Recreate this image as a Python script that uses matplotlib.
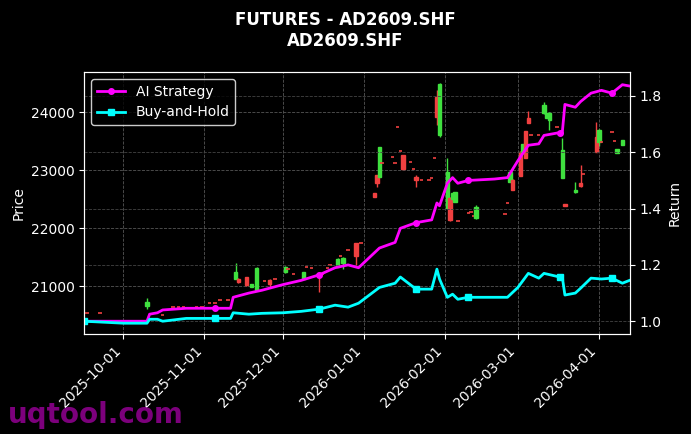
import matplotlib
matplotlib.use("Agg")
import matplotlib.pyplot as plt
import matplotlib.dates as mdates
import pandas as pd

# candles: date, open, high, low, close
c_dates = ["2025-09-17","2025-09-22","2025-10-10","2025-10-16","2025-10-20","2025-10-22","2025-10-24",
 "2025-10-29","2025-10-31","2025-11-03","2025-11-05","2025-11-07","2025-11-10","2025-11-13","2025-11-14",
 "2025-11-17","2025-11-19","2025-11-21","2025-11-24","2025-11-26","2025-11-28","2025-12-02","2025-12-03",
 "2025-12-05","2025-12-09","2025-12-10","2025-12-12","2025-12-15","2025-12-16","2025-12-18","2025-12-19",
 "2025-12-22","2025-12-23","2025-12-24","2025-12-26","2025-12-29","2025-12-31","2026-01-05","2026-01-06",
 "2026-01-07","2026-01-08","2026-01-12","2026-01-13","2026-01-14","2026-01-15","2026-01-16","2026-01-19",
 "2026-01-20","2026-01-21","2026-01-23","2026-01-26","2026-01-27","2026-01-28","2026-01-29","2026-01-30",
 "2026-02-02","2026-02-03","2026-02-04","2026-02-05","2026-02-06","2026-02-10","2026-02-11","2026-02-12",
 "2026-02-13","2026-02-24","2026-02-25","2026-02-26","2026-02-27","2026-03-02","2026-03-03","2026-03-04",
 "2026-03-05","2026-03-06","2026-03-09","2026-03-11","2026-03-12","2026-03-13","2026-03-16","2026-03-17",
 "2026-03-18","2026-03-19","2026-03-23","2026-03-25","2026-03-26","2026-03-31","2026-04-01","2026-04-02",
 "2026-04-06","2026-04-07","2026-04-08","2026-04-10"]
c_open = [20535,20535,20650,20500,20640,20640,20640,20640,20640,20710,20710,20760,20760,21130,21130,
 21150,20990,20930,21090,21110,21120,21240,21300,21210,21130,21320,21310,21220,21210,21310,21360,
 21330,21520,21390,21620,21740,21740,22600,22910,22880,23120,23220,23120,23740,23330,23260,23140,
 23020,22880,22830,22830,22860,23210,24260,23600,22350,22520,22500,22450,22120,22260,22280,22210,
 22170,22240,22430,22790,22830,23310,23310,23670,23900,23600,23600,23980,23900,23870,23740,23660,
 22860,22420,22620,22780,22930,23570,23480,23480,23660,23500,23290,23430]
c_high = [20535,20535,20790,20500,20640,20640,20640,20640,20640,20710,20710,20760,20760,21400,21140,
 21160,21040,21320,21090,21120,21120,21340,21300,21210,21250,21320,21310,21240,21210,21310,21360,
 21490,21520,21500,21620,21740,21740,22600,22910,23400,23120,23220,23120,23740,23330,23260,23140,
 23020,22910,22830,22830,22860,23210,24380,24500,23210,22530,22600,22620,22120,22260,22280,22210,
 22390,22240,22430,22970,22850,23330,23450,23670,24020,23600,23600,24180,23980,24000,23740,23660,
 23550,22420,22790,23090,22930,23830,23700,23480,23660,23500,23360,23520]
c_low = [20535,20535,20600,20500,20640,20640,20640,20640,20640,20710,20710,20760,20760,21120,21060,
 21000,20990,20920,21090,20990,21120,21220,21300,21210,21130,21320,21310,20900,21210,21310,21360,
 21320,21520,21300,21620,21330,21740,22540,22700,22880,23120,23220,23120,23740,23330,23020,23140,
 23020,22700,22830,22830,22860,23210,23780,23570,22340,22130,22500,22450,22120,22260,22280,22210,
 22150,22240,22430,22790,22650,22890,23310,23200,23810,23600,23600,23970,23900,23690,23740,23660,
 22860,22380,22600,22700,22930,23310,23410,23480,23660,23500,23290,23430]
c_close = [20535,20535,20720,20500,20640,20640,20640,20640,20640,20710,20710,20760,20760,21245,21070,
 21010,21040,21310,21090,21030,21120,21330,21300,21210,21250,21320,21310,21190,21210,21310,21360,
 21470,21520,21490,21620,21520,21740,22540,22780,23400,23120,23220,23120,23740,23330,23020,23140,
 23020,22830,22830,22830,22860,23210,23910,24480,22970,22140,22600,22620,22120,22260,22280,22210,
 22360,22240,22430,22970,22660,22900,23450,23210,23810,23600,23600,24120,23980,23980,23740,23660,
 23345,22380,22660,22720,22930,23310,23690,23480,23660,23500,23360,23520]

# strategy returns
r_dates = ["2025-09-16","2025-10-01","2025-10-10","2025-10-11","2025-10-14","2025-10-16","2025-10-25",
 "2025-11-05","2025-11-11","2025-11-12","2025-11-18","2025-11-23","2025-12-01","2025-12-08","2025-12-15",
 "2025-12-21","2025-12-26","2025-12-30","2026-01-07","2026-01-13","2026-01-15","2026-01-21","2026-01-27",
 "2026-01-29","2026-01-30","2026-02-02","2026-02-04","2026-02-06","2026-02-10","2026-02-20","2026-02-25",
 "2026-03-01","2026-03-05","2026-03-09","2026-03-11","2026-03-17","2026-03-18","2026-03-19","2026-03-23",
 "2026-03-25","2026-03-29","2026-04-02","2026-04-06","2026-04-10","2026-04-13"]
ai_ret = [1.0,1.0,1.0,1.025,1.03,1.04,1.046,1.046,1.046,1.085,1.10,1.11,1.13,1.145,1.165,
 1.19,1.20,1.19,1.26,1.28,1.33,1.35,1.36,1.42,1.41,1.49,1.51,1.49,1.50,1.505,1.51,
 1.57,1.625,1.63,1.66,1.67,1.67,1.77,1.76,1.78,1.81,1.82,1.81,1.84,1.835]
bh_ret = [1.0,0.993,0.993,1.007,1.007,1.0,1.01,1.01,1.01,1.03,1.025,1.028,1.03,1.035,1.043,
 1.057,1.05,1.064,1.12,1.135,1.157,1.114,1.114,1.185,1.15,1.085,1.096,1.078,1.085,1.085,1.085,
 1.12,1.17,1.153,1.17,1.157,1.157,1.093,1.10,1.117,1.153,1.15,1.153,1.135,1.146]

plt.rcParams['font.family'] = ['DejaVu Sans']
fig = plt.figure(figsize=(6.91, 4.34), dpi=100, facecolor='black')
ax = fig.add_axes([0.122, 0.23, 0.79, 0.604])
ax.set_facecolor('black')
ax2 = ax.twinx()

dts = pd.to_datetime(c_dates)
w = 1.3
for d, o, h, l, c in zip(dts, c_open, c_high, c_low, c_close):
    col = '#3fe03f' if c > o else '#f04040'
    x = mdates.date2num(d)
    ax.vlines(x, l, h, color=col, lw=1, zorder=2)
    hgt = abs(c - o)
    if hgt < 15:
        ax.hlines(o, x - w / 2, x + w / 2, color=col, lw=1.2, zorder=3)
    else:
        ax.add_patch(plt.Rectangle((x - w / 2, min(o, c)), w, hgt, color=col, zorder=3))

rd = pd.to_datetime(r_dates)
ax2.plot(rd, ai_ret, color='#ff00ff', lw=2, marker='o', ms=4, markevery=7, label='AI Strategy')
ax2.plot(rd, bh_ret, color='#00ffff', lw=2, marker='s', ms=4, markevery=7, label='Buy-and-Hold')

ax.set_xlim(mdates.date2num(pd.Timestamp("2025-09-16")), mdates.date2num(pd.Timestamp("2026-04-13")))
ax.set_ylim(20170, 24690)
ax2.set_ylim(0.954, 1.885)
ax.set_yticks([21000, 22000, 23000, 24000])
ax2.set_yticks([1.0, 1.2, 1.4, 1.6, 1.8])
ax.xaxis.set_major_locator(mdates.MonthLocator())
ax.xaxis.set_major_formatter(mdates.DateFormatter('%Y-%m-%d'))
for lab in ax.get_xticklabels():
    lab.set_rotation(45); lab.set_ha('right')

for a in (ax, ax2):
    a.tick_params(colors='white', labelsize=10)
    for s in a.spines.values():
        s.set_color('white')
ax.grid(True, color='#555555', ls='--', lw=0.6)
ax2.grid(True, axis='y', color='#444444', ls='--', lw=0.6)
ax.set_ylabel('Price', color='white')
ax2.set_ylabel('Return', color='white')

leg = ax2.legend(loc='upper left', facecolor='black', edgecolor='white', labelcolor='white', fontsize=10)
fig.suptitle('FUTURES - AD2609.SHF\nAD2609.SHF', color='white', fontweight='bold', fontsize=12, y=0.975)
fig.text(0.012, 0.025, 'uqtool.com', color='#8b008b', fontsize=20, fontweight='bold', alpha=0.9)
fig.savefig('out.png', dpi=100, facecolor='black')
